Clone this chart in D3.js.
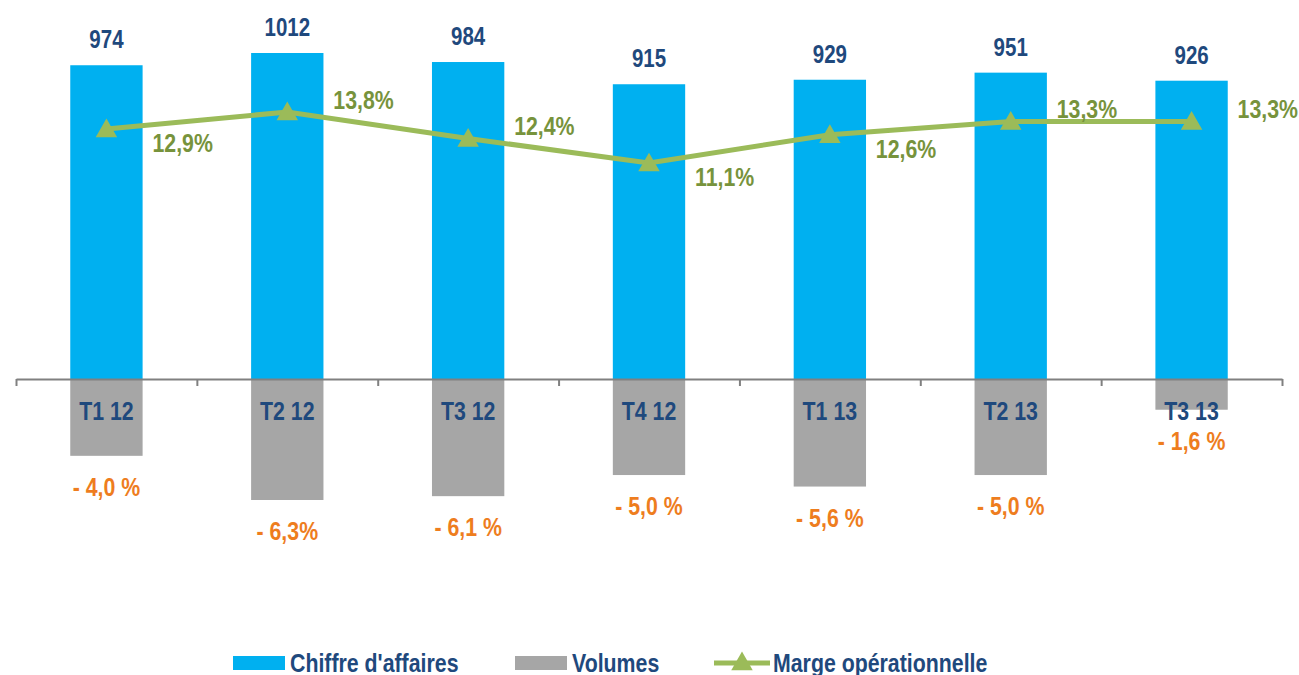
<!DOCTYPE html>
<html>
<head>
<meta charset="utf-8">
<script src="https://d3js.org/d3.v7.min.js"></script>
<style>
  body { margin: 0; background: #fff; }
  svg { display: block; font-family: 'Liberation Sans', Arial, sans-serif; font-weight: bold; }
</style>
</head>
<body>
<svg width="1299" height="675"></svg>
<script>
const quarters = ['T1 12', 'T2 12', 'T3 12', 'T4 12', 'T1 13', 'T2 13', 'T3 13'];
const chiffreAffaires = [974, 1012, 984, 915, 929, 951, 926];
const volumes = [-4.0, -6.3, -6.1, -5.0, -5.6, -5.0, -1.6];
const volumeLabels = ['- 4,0 %', '- 6,3%', '- 6,1 %', '- 5,0 %', '- 5,6 %', '- 5,0 %', '- 1,6 %'];
const marge = [12.9, 13.8, 12.4, 11.1, 12.6, 13.3, 13.3];
const margeLabels = ['12,9%', '13,8%', '12,4%', '11,1%', '12,6%', '13,3%', '13,3%'];
const margeLabelSide = ['below', 'above', 'above', 'below', 'below', 'above', 'above'];
const legendNames = ["Chiffre d'affaires", 'Volumes', 'Marge opérationnelle'];

const blue = '#00B0F0';
const grey = '#A6A6A6';
const green = '#9BBB59';
const darkBlue = '#1F497D';
const olive = '#77933C';
const orange = '#EE7D1E';
const narrow = 0.82; // no narrow font installed, squeeze Liberation Sans instead

const svg = d3.select('svg');

const x = d3.scaleBand().domain(quarters).range([16, 1282]).paddingInner(0.6).paddingOuter(0.3);
const yCA = d3.scaleLinear().domain([0, 1012]).range([379, 53]);
const yVol = d3.scaleLinear().domain([0, -6.3]).range([379, 500]);
const yMarge = d3.scaleLinear().domain([0, 13.8]).range([373, 112]);
const cx = (d, i) => x(quarters[i]) + x.bandwidth() / 2;

function place(sel, fx, fy) {
  sel.attr('transform', (d, i) => `translate(${fx(d, i)},${fy(d, i)}) scale(${narrow},1)`);
}

// blue bars
svg.append('g').selectAll('rect')
  .data(chiffreAffaires)
  .join('rect')
  .attr('x', (d, i) => x(quarters[i]))
  .attr('y', d => yCA(d))
  .attr('width', x.bandwidth())
  .attr('height', d => yCA(0) - yCA(d))
  .attr('fill', blue);

// grey bars
svg.append('g').selectAll('rect')
  .data(volumes)
  .join('rect')
  .attr('x', (d, i) => x(quarters[i]))
  .attr('y', yVol(0))
  .attr('width', x.bandwidth())
  .attr('height', d => yVol(d) - yVol(0))
  .attr('fill', grey);

// axis with ticks between categories
const bounds = d3.scaleLinear().domain([0, quarters.length]).range(x.range());
const axis = svg.append('g')
  .attr('transform', `translate(0,${yCA(0)})`)
  .call(d3.axisBottom(bounds).tickValues(d3.range(quarters.length + 1)).tickFormat('').tickSize(7).tickSizeOuter(0));
axis.selectAll('path, line').attr('stroke', '#808080').attr('stroke-width', 2);

// category labels
svg.append('g').selectAll('text')
  .data(quarters)
  .join('text')
  .call(place, cx, () => 420)
  .attr('text-anchor', 'middle')
  .attr('font-size', 26)
  .attr('fill', darkBlue)
  .text(d => d);

// CA value labels
svg.append('g').selectAll('text')
  .data(chiffreAffaires)
  .join('text')
  .call(place, cx, d => yCA(d) - 17)
  .attr('text-anchor', 'middle')
  .attr('font-size', 25)
  .attr('fill', darkBlue)
  .text(d => d);

// volume labels
svg.append('g').selectAll('text')
  .data(volumes)
  .join('text')
  .call(place, cx, d => yVol(d) + 40)
  .attr('text-anchor', 'middle')
  .attr('font-size', 26)
  .attr('fill', orange)
  .text((d, i) => volumeLabels[i]);

// margin line
const line = d3.line().x(cx).y(d => yMarge(d));
svg.append('path')
  .datum(marge)
  .attr('d', line)
  .attr('fill', 'none')
  .attr('stroke', green)
  .attr('stroke-width', 5);

const tri = d3.symbol().type(d3.symbolTriangle).size(200);
svg.append('g').selectAll('path')
  .data(marge)
  .join('path')
  .attr('transform', (d, i) => `translate(${cx(d, i)},${yMarge(d) + 2})`)
  .attr('d', tri)
  .attr('fill', green);

svg.append('g').selectAll('text')
  .data(marge)
  .join('text')
  .call(place, (d, i) => cx(d, i) + 46, (d, i) => yMarge(d) + (margeLabelSide[i] === 'below' ? 23 : -3))
  .attr('font-size', 26)
  .attr('fill', olive)
  .text((d, i) => margeLabels[i]);

// legend
const legend = svg.append('g').attr('font-size', 26).attr('fill', darkBlue);
legend.append('rect').attr('x', 233).attr('y', 656).attr('width', 52).attr('height', 14).attr('fill', blue);
legend.append('text').call(place, () => 290, () => 672).text(legendNames[0]);
legend.append('rect').attr('x', 515).attr('y', 656).attr('width', 52).attr('height', 14).attr('fill', grey);
legend.append('text').call(place, () => 572, () => 672).text(legendNames[1]);
legend.append('line').attr('x1', 714).attr('x2', 770).attr('y1', 663).attr('y2', 663)
  .attr('stroke', green).attr('stroke-width', 5);
legend.append('path').attr('transform', 'translate(742,664)').attr('d', tri).attr('fill', green);
legend.append('text').call(place, () => 773, () => 672).text(legendNames[2]);
</script>
</body>
</html>
